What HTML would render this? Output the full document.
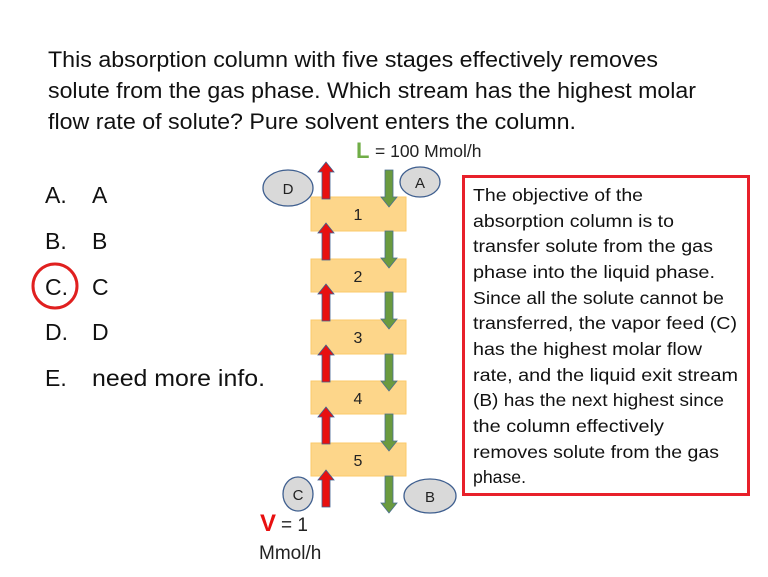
<!DOCTYPE html>
<html><head><meta charset="utf-8"><style>
html,body{margin:0;padding:0;background:#fff;}
svg{display:block;}
text{font-family:"Liberation Sans",sans-serif;}
</style></head><body>
<svg width="768" height="577" viewBox="0 0 768 577" xmlns="http://www.w3.org/2000/svg">
<g font-size="22.5" fill="#111">
<text x="48" y="67" textLength="610" lengthAdjust="spacingAndGlyphs">This absorption column with five stages effectively removes</text>
<text x="48" y="98" textLength="648" lengthAdjust="spacingAndGlyphs">solute from the gas phase. Which stream has the highest molar</text>
<text x="48" y="129" textLength="528" lengthAdjust="spacingAndGlyphs">flow rate of solute? Pure solvent enters the column.</text>
</g>
<text x="356" y="158" font-size="22" font-weight="bold" fill="#70ad47">L</text>
<text x="375" y="157" font-size="17.5" fill="#222">= 100 Mmol/h</text>
<g font-size="23" fill="#111">
<text x="45" y="203">A.</text><text x="92" y="203">A</text>
<text x="45" y="249">B.</text><text x="92" y="249">B</text>
<text x="45" y="295">C.</text><text x="92" y="295">C</text>
<text x="45" y="340">D.</text><text x="92" y="340">D</text>
<text x="45" y="386">E.</text><text x="92" y="386" textLength="173" lengthAdjust="spacingAndGlyphs">need more info.</text>
</g>
<circle cx="55" cy="286" r="22" fill="none" stroke="#e0201f" stroke-width="3"/>
<g fill="#fdd68a" stroke="#fbc96a" stroke-width="1">
<rect x="311" y="197" width="95" height="34"/>
<rect x="311" y="259" width="95" height="33"/>
<rect x="311" y="320" width="95" height="34"/>
<rect x="311" y="381" width="95" height="33"/>
<rect x="311" y="443" width="95" height="33"/>
</g>
<g font-size="16" fill="#222" text-anchor="middle">
<text x="358" y="220">1</text><text x="358" y="282">2</text><text x="358" y="343">3</text><text x="358" y="404">4</text><text x="358" y="466">5</text>
</g>
<defs>
<path id="up" d="M-4,0 L-4,-27 L-8,-27 L0,-37 L8,-27 L4,-27 L4,0 Z" fill="#e81010" stroke="#3f5f8f" stroke-width="0.8"/>
<path id="dn" d="M-4,0 L-4,27 L-8,27 L0,37 L8,27 L4,27 L4,0 Z" fill="#6a9a3f" stroke="#4a6f8f" stroke-width="0.8"/>
</defs>
<use href="#up" x="326" y="199"/>
<use href="#up" x="326" y="260"/>
<use href="#up" x="326" y="321"/>
<use href="#up" x="326" y="382"/>
<use href="#up" x="326" y="444"/>
<use href="#up" x="326" y="507"/>
<use href="#dn" x="389" y="170"/>
<use href="#dn" x="389" y="231"/>
<use href="#dn" x="389" y="292"/>
<use href="#dn" x="389" y="354"/>
<use href="#dn" x="389" y="414"/>
<use href="#dn" x="389" y="476"/>
<g fill="#d9d9d9" stroke="#3f5f8f" stroke-width="1.3">
<ellipse cx="288" cy="188" rx="25" ry="18"/>
<ellipse cx="420" cy="182" rx="20" ry="15"/>
<ellipse cx="298" cy="494" rx="15" ry="17"/>
<ellipse cx="430" cy="496" rx="26" ry="17"/>
</g>
<g font-size="15" fill="#222" text-anchor="middle">
<text x="288" y="194">D</text><text x="420" y="188">A</text><text x="298" y="500">C</text><text x="430" y="502">B</text>
</g>
<text x="260" y="531" font-size="24" font-weight="bold" fill="#e81010">V</text>
<text x="281" y="531" font-size="19" fill="#222">= 1</text>
<text x="259" y="559" font-size="19" fill="#222">Mmol/h</text>
<rect x="463.5" y="176.5" width="285" height="318" fill="none" stroke="#e8202a" stroke-width="3"/>
<g font-size="17.5" fill="#111">
<text x="473" y="201" textLength="170" lengthAdjust="spacingAndGlyphs">The objective of the</text>
<text x="473" y="227" textLength="201" lengthAdjust="spacingAndGlyphs">absorption column is to</text>
<text x="473" y="252" textLength="240" lengthAdjust="spacingAndGlyphs">transfer solute from the gas</text>
<text x="473" y="278" textLength="242" lengthAdjust="spacingAndGlyphs">phase into the liquid phase.</text>
<text x="473" y="304" textLength="251" lengthAdjust="spacingAndGlyphs">Since all the solute cannot be</text>
<text x="473" y="329" textLength="264" lengthAdjust="spacingAndGlyphs">transferred, the vapor feed (C)</text>
<text x="473" y="355" textLength="229" lengthAdjust="spacingAndGlyphs">has the highest molar flow</text>
<text x="473" y="381" textLength="265" lengthAdjust="spacingAndGlyphs">rate, and the liquid exit stream</text>
<text x="473" y="406" textLength="251" lengthAdjust="spacingAndGlyphs">(B) has the next highest since</text>
<text x="473" y="432" textLength="191" lengthAdjust="spacingAndGlyphs">the column effectively</text>
<text x="473" y="458" textLength="246" lengthAdjust="spacingAndGlyphs">removes solute from the gas</text>
<text x="473" y="483" textLength="53" lengthAdjust="spacingAndGlyphs">phase.</text>
</g>
</svg>
</body></html>
